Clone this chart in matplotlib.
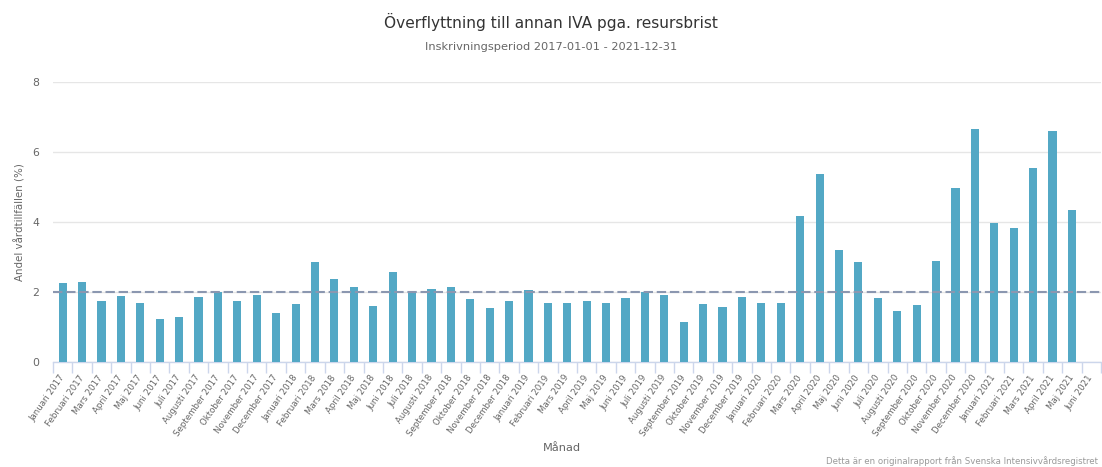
import matplotlib
matplotlib.use("Agg")
import matplotlib.pyplot as plt
import numpy as np

months = ["Januari", "Februari", "Mars", "April", "Maj", "Juni", "Juli",
          "Augusti", "September", "Oktober", "November", "December"]
categories = [f"{m} {y}" for y in range(2017, 2022) for m in months][:54]

values = [2.27, 2.30, 1.75, 1.90, 1.70, 1.24, 1.30, 1.87, 2.01, 1.75, 1.92, 1.41,
          1.67, 2.87, 2.38, 2.13, 1.61, 2.58, 2.04, 2.10, 2.13, 1.81, 1.53, 1.75,
          2.07, 1.70, 1.70, 1.73, 1.70, 1.84, 2.01, 1.92, 1.15, 1.67, 1.56, 1.87,
          1.70, 1.70, 4.18, 5.38, 3.19, 2.87, 1.84, 1.47, 1.64, 2.90, 4.96, 6.65,
          3.96, 3.84, 5.53, 6.59, 4.33, np.nan]
reference_level = 1.99
yticks = [0, 2, 4, 6, 8]

title = "Överflyttning till annan IVA pga. resursbrist"
subtitle = "Inskrivningsperiod 2017-01-01 - 2021-12-31"
ylabel = "Andel vårdtillfällen (%)"
xlabel = "Månad"
credits = "Detta är en originalrapport från Svenska Intensivvårdsregistret"

plt.rcParams['font.family'] = ['DejaVu Sans']

fig = plt.figure(figsize=(11.02, 4.67), dpi=100)
ax = fig.add_axes([53/1102, 105/467, 1048/1102, 280/467])

x = np.arange(len(categories))
ax.bar(x, values, width=0.42, color="#53a8c5", zorder=3)
ax.axhline(reference_level, color="#8b97b0", linestyle=(0, (4.5, 1.8)), linewidth=1.5, zorder=4)

ax.set_xlim(-0.5, len(categories) - 0.5)
ax.set_ylim(0, 8)
ax.set_yticks(yticks)
ax.set_yticklabels([str(t) for t in yticks], fontsize=7.8, color="#666666")
ax.yaxis.grid(True, color="#e6e6e6", linewidth=1, zorder=0)
ax.tick_params(axis="y", length=0, pad=10)

ax.set_xticks(x)
ax.set_xticklabels(categories, rotation=55, ha="right", va="center", rotation_mode="anchor",
                   fontsize=6.2, color="#666666")
ax.set_xticks(np.arange(len(categories) + 1) - 0.5, minor=True)
ax.tick_params(axis="x", which="major", length=0, pad=10)
ax.tick_params(axis="x", which="minor", length=8, color="#ccd6eb", width=1)

for s in ["top", "right", "left"]:
    ax.spines[s].set_visible(False)
ax.spines["bottom"].set_color("#ccd6eb")
ax.spines["bottom"].set_linewidth(1)

fig.text(0.5, 1 - 22/467, title, ha="center", va="center", fontsize=11.1, color="#333333")
fig.text(0.5, 1 - 47/467, subtitle, ha="center", va="center", fontsize=8.2, color="#666666")
fig.text(20/1102, 1 - 222/467, ylabel, rotation=90, ha="center", va="center",
         fontsize=7.4, color="#666666")
fig.text(562/1102, 1 - 448/467, xlabel, ha="center", va="center", fontsize=8.2, color="#666666")
fig.text(1098/1102, 1 - 461/467, credits, ha="right", va="center", fontsize=6.2, color="#999999")

fig.savefig("out.png", dpi=100)
